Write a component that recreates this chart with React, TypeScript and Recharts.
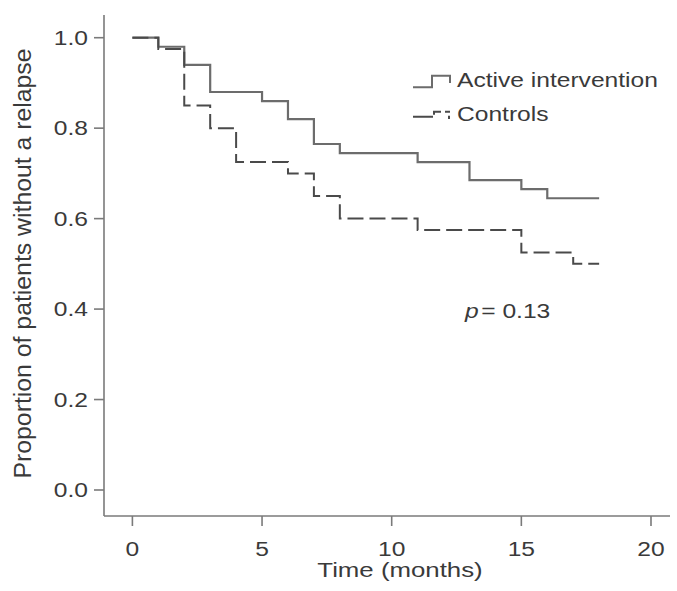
import React from 'react';
import { LineChart, Line, XAxis, YAxis, Legend, ReferenceDot } from 'recharts';

// ---- data ----
const activeTimes = [0, 1, 2, 3, 5, 6, 7, 8, 11, 13, 15, 16, 18];
const activeProportion = [1, 0.98, 0.94, 0.88, 0.86, 0.82, 0.765, 0.745, 0.725, 0.685, 0.665, 0.645, 0.645];
const controlTimes = [0, 1, 2, 3, 4, 6, 7, 8, 11, 15, 17, 18];
const controlProportion = [1, 0.975, 0.85, 0.8, 0.725, 0.7, 0.65, 0.6, 0.575, 0.525, 0.5, 0.5];
const xTicks = [0, 5, 10, 15, 20];
const yTicks = [0, 0.2, 0.4, 0.6, 0.8, 1.0];
const seriesNames = ['Active intervention', 'Controls'];
const xTitle = 'Time (months)';
const yTitle = 'Proportion of patients without a relapse';
const pAnnotation = { t: 12.83, v: 0.38, symbol: 'p', text: '= 0.13' };

const activeData = activeTimes.map((t, i) => ({ t, v: activeProportion[i] }));
const controlData = controlTimes.map((t, i) => ({ t, v: controlProportion[i] }));

// ---- styling ----
const FONT = '"Liberation Sans", Arial, Helvetica, sans-serif';
const TEXT = '#3a3a3a';
const AXIS = '#7a7a7a';
const SOLID = '#6c6c6c';
const DASHED = '#4a4a4a';
const SX = 1.23;
const FS = 20;

const YTick = (props: any) => {
  const { x, y, payload } = props;
  return (
    <text
      transform={`translate(${x},${y + 7}) scale(${SX},1)`}
      textAnchor="end"
      fontSize={FS}
      fontFamily={FONT}
      fill={TEXT}
    >
      {Number(payload.value).toFixed(1)}
    </text>
  );
};

const XTick = (props: any) => {
  const { x, y, payload } = props;
  return (
    <text
      transform={`translate(${x},${y + 28}) scale(${SX},1)`}
      textAnchor="middle"
      fontSize={FS}
      fontFamily={FONT}
      fill={TEXT}
    >
      {payload.value}
    </text>
  );
};

const XTitle = (props: any) => {
  const vb = props.viewBox || {};
  const cx = vb.x + vb.width / 2 + 13;
  const by = vb.y + 61;
  return (
    <text
      transform={`translate(${cx},${by}) scale(${SX},1)`}
      textAnchor="middle"
      fontSize={21}
      fontFamily={FONT}
      fill={TEXT}
    >
      {xTitle}
    </text>
  );
};

const YTitle = (props: any) => {
  const vb = props.viewBox || {};
  const cy = vb.y + vb.height / 2 - 2;
  return (
    <text
      transform={`translate(22,${cy}) rotate(-90)`}
      textAnchor="middle"
      dominantBaseline="central"
      fontSize={24.8}
      fontFamily={FONT}
      fill={TEXT}
    >
      {yTitle}
    </text>
  );
};

const PLabel = (props: any) => {
  const vb = props.viewBox || {};
  return (
    <text
      transform={`translate(${vb.x},${vb.y}) scale(${SX},1)`}
      textAnchor="start"
      fontSize={FS}
      fontFamily={FONT}
      fill={TEXT}
    >
      <tspan fontStyle="italic">{pAnnotation.symbol}</tspan>
      <tspan dx={2}>{pAnnotation.text}</tspan>
    </text>
  );
};

const LegendContent = () => (
  <svg width={270} height={75} style={{ display: 'block' }}>
    <path d="M8,32.3 H27 V20.7 H45 V28" stroke={SOLID} strokeWidth={2} fill="none" />
    <text
      transform={`translate(52,32.3) scale(${SX},1)`}
      fontSize={FS}
      fontFamily={FONT}
      fill={TEXT}
    >
      {seriesNames[0]}
    </text>
    <path
      d="M8,61.7 H29 V56.7 H44 V64"
      stroke={DASHED}
      strokeWidth={2}
      fill="none"
      strokeDasharray="20 3 10 4 5 3"
    />
    <text
      transform={`translate(52,65.7) scale(${SX},1)`}
      fontSize={FS}
      fontFamily={FONT}
      fill={TEXT}
    >
      {seriesNames[1]}
    </text>
  </svg>
);

export default function App() {
  return (
    <div style={{ position: 'absolute', left: 0, top: 0, width: 677, height: 591, background: '#fff' }}>
      <LineChart width={677} height={591} margin={{ top: 15, right: 7, left: 0, bottom: 0 }}>
        <XAxis
          type="number"
          dataKey="t"
          domain={[-1.095, 20.733]}
          ticks={xTicks}
          allowDataOverflow
          height={75}
          tickSize={10}
          tickMargin={2}
          stroke={AXIS}
          strokeWidth={1.6}
          tickLine={{ stroke: AXIS, strokeWidth: 1.6 }}
          axisLine={{ stroke: AXIS, strokeWidth: 1.6 }}
          tick={<XTick />}
          label={{ content: <XTitle /> }}
        />
        <YAxis
          type="number"
          dataKey="v"
          domain={[-0.0575, 1.0502]}
          ticks={yTicks}
          allowDataOverflow
          width={104}
          tickSize={10}
          tickMargin={6}
          stroke={AXIS}
          strokeWidth={1.6}
          tickLine={{ stroke: AXIS, strokeWidth: 1.6 }}
          axisLine={{ stroke: AXIS, strokeWidth: 1.6 }}
          tick={<YTick />}
          label={{ content: <YTitle /> }}
        />
        <Legend
          layout="vertical"
          align="center"
          verticalAlign="middle"
          wrapperStyle={{ position: 'absolute', left: 405, top: 55, width: 270, height: 75 }}
          content={<LegendContent />}
        />
        <Line
          data={activeData}
          dataKey="v"
          name={seriesNames[0]}
          type="stepAfter"
          stroke={SOLID}
          strokeWidth={2.2}
          dot={false}
          activeDot={false}
          isAnimationActive={false}
        />
        <Line
          data={controlData}
          dataKey="v"
          name={seriesNames[1]}
          type="stepAfter"
          stroke={DASHED}
          strokeWidth={2}
          strokeDasharray="16 6"
          dot={false}
          activeDot={false}
          isAnimationActive={false}
        />
        <ReferenceDot
          x={pAnnotation.t}
          y={pAnnotation.v}
          r={0}
          fill="none"
          stroke="none"
          label={{ content: <PLabel /> }}
        />
      </LineChart>
    </div>
  );
}
